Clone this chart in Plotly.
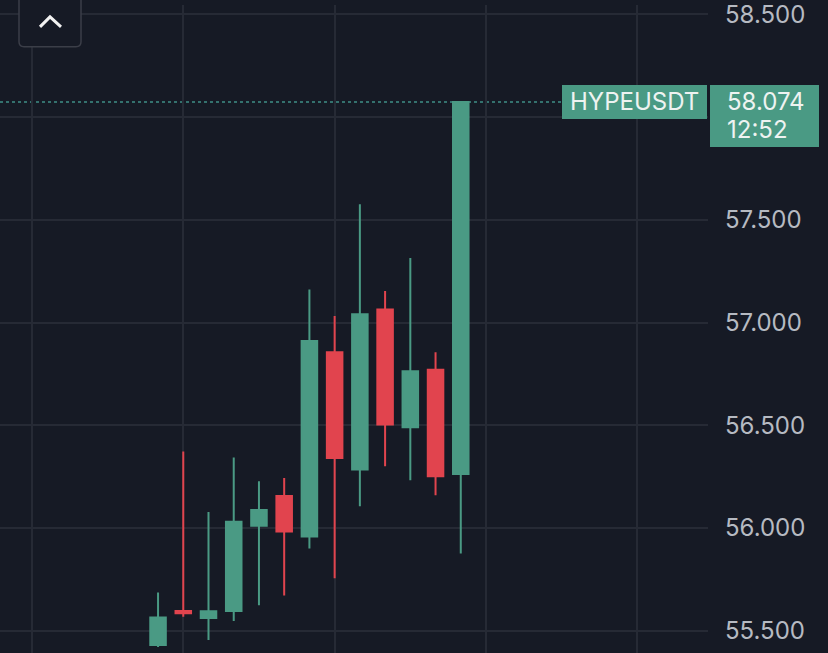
"""Candlestick chart, HYPEUSDT, dark theme."""

import plotly.graph_objects as go

# ---------------------------------------------------------------------------
# Data
# ---------------------------------------------------------------------------

candle_idx = list(range(13))
opens = [55.430, 55.595, 55.562, 55.596, 56.010, 56.155, 55.958,
         56.855, 56.284, 57.064, 56.490, 56.770, 56.262]
highs = [55.685, 56.372, 56.077, 56.343, 56.227, 56.243, 57.161,
         57.032, 57.576, 57.153, 57.314, 56.855, 58.074]
lows = [55.420, 55.567, 55.454, 55.547, 55.623, 55.671, 55.900,
        55.755, 56.106, 56.300, 56.232, 56.159, 55.876]
closes = [55.564, 55.585, 55.594, 56.030, 56.087, 55.982, 56.910,
          56.340, 57.040, 56.504, 56.763, 56.251, 58.074]

symbol = "HYPEUSDT"
last_price = 58.074
countdown = "12:52"
price_ticks = [55.5, 56.0, 56.5, 57.0, 57.5, 58.0, 58.5]

# ---------------------------------------------------------------------------
# Style
# ---------------------------------------------------------------------------

BG = "#161a25"
GRID = "#262a35"
UP = "#4a9a84"
DOWN = "#e1444e"
TICK_TXT = "#b6bac2"
LABEL_TXT = "#eef3f1"
FONT = "Inter"

W, H = 828, 653
PLOT_W = 708  # right edge of the plot area in pixels


def px(x):
    return x / PLOT_W


def py(y):
    return 1 - y / H


def rounded(x0, y0, x1, y1, r):
    """Rounded rectangle path in paper coords, from pixel corners."""
    return (
        f"M {px(x0 + r)},{py(y0)} L {px(x1 - r)},{py(y0)} "
        f"Q {px(x1)},{py(y0)} {px(x1)},{py(y0 + r)} "
        f"L {px(x1)},{py(y1 - r)} Q {px(x1)},{py(y1)} {px(x1 - r)},{py(y1)} "
        f"L {px(x0 + r)},{py(y1)} Q {px(x0)},{py(y1)} {px(x0)},{py(y1 - r)} "
        f"L {px(x0)},{py(y0 + r)} Q {px(x0)},{py(y0)} {px(x0 + r)},{py(y0)} Z"
    )


fig = go.Figure()

fig.add_trace(
    go.Candlestick(
        x=candle_idx,
        open=opens,
        high=highs,
        low=lows,
        close=closes,
        increasing=dict(line=dict(color=UP, width=2), fillcolor=UP),
        decreasing=dict(line=dict(color=DOWN, width=2), fillcolor=DOWN),
        whiskerwidth=0,
        showlegend=False,
        hoverinfo="skip",
    )
)

# last price dotted line
fig.add_shape(
    type="line", xref="paper", yref="y",
    x0=0, x1=px(562), y0=last_price, y1=last_price,
    line=dict(color="#3f8f86", width=1.5, dash="dot"),
    layer="below",
)

# price labels (anchored to the last price, sized in pixels)
fig.add_shape(
    type="rect", xref="paper", yref="y", ysizemode="pixel", yanchor=last_price,
    x0=px(562), x1=px(707), y0=-17, y1=17,
    fillcolor=UP, line=dict(width=0), layer="above",
)
fig.add_shape(
    type="rect", xref="paper", yref="y", ysizemode="pixel", yanchor=last_price,
    x0=px(710), x1=px(819), y0=-45, y1=17,
    fillcolor=UP, line=dict(width=0), layer="above",
)
fig.add_annotation(
    xref="paper", yref="y", x=px(634), y=last_price, text=symbol,
    showarrow=False, xanchor="center", yanchor="middle",
    font=dict(family=FONT, size=24, color=LABEL_TXT),
)
fig.add_annotation(
    xref="paper", yref="y", x=px(725), y=last_price, text=f"{last_price:.3f}",
    showarrow=False, xanchor="left", yanchor="middle",
    font=dict(family=FONT, size=24, color=LABEL_TXT),
)
fig.add_annotation(
    xref="paper", yref="y", x=px(725), y=last_price, yshift=-28, text=countdown,
    showarrow=False, xanchor="left", yanchor="middle",
    font=dict(family=FONT, size=24, color=LABEL_TXT),
)

# collapse button (top-left)
fig.add_shape(
    type="path", xref="paper", yref="paper",
    path=rounded(19, -10, 81, 42, 5),
    fillcolor=BG, line=dict(color="#3b3e48", width=1.5), layer="above",
)
fig.add_shape(
    type="path", xref="paper", yref="paper",
    path=f"M {px(40)},{py(22)} L {px(50)},{py(12)} L {px(61)},{py(22)}",
    line=dict(color="#f2f2f2", width=3), layer="above",
)

fig.update_layout(
    width=W,
    height=H,
    paper_bgcolor=BG,
    plot_bgcolor=BG,
    margin=dict(l=0, r=W - PLOT_W, t=0, b=0),
    boxgap=0.12,
    xaxis=dict(
        range=[-6.265, 21.8],
        showticklabels=False,
        tick0=1,
        dtick=6,
        showgrid=True,
        gridcolor=GRID,
        gridwidth=1.5,
        zeroline=False,
        rangeslider=dict(visible=False),
        fixedrange=True,
    ),
    yaxis=dict(
        side="right",
        range=[55.391, 58.546],
        tickmode="array",
        tickvals=price_ticks,
        # the 58.000 label sits under the price tag
        ticktext=["" if v == 58.0 else f"{v:.3f}" for v in price_ticks],
        tickfont=dict(family=FONT, size=24, color=TICK_TXT),
        ticklabelstandoff=16,
        ticklabeloverflow="allow",
        showgrid=True,
        gridcolor=GRID,
        gridwidth=1.5,
        zeroline=False,
        fixedrange=True,
    ),
    hovermode=False,
)

fig.write_html(
    "out.html",
    config=dict(displayModeBar=False),
    post_script="document.body.style.margin='0';",
)
